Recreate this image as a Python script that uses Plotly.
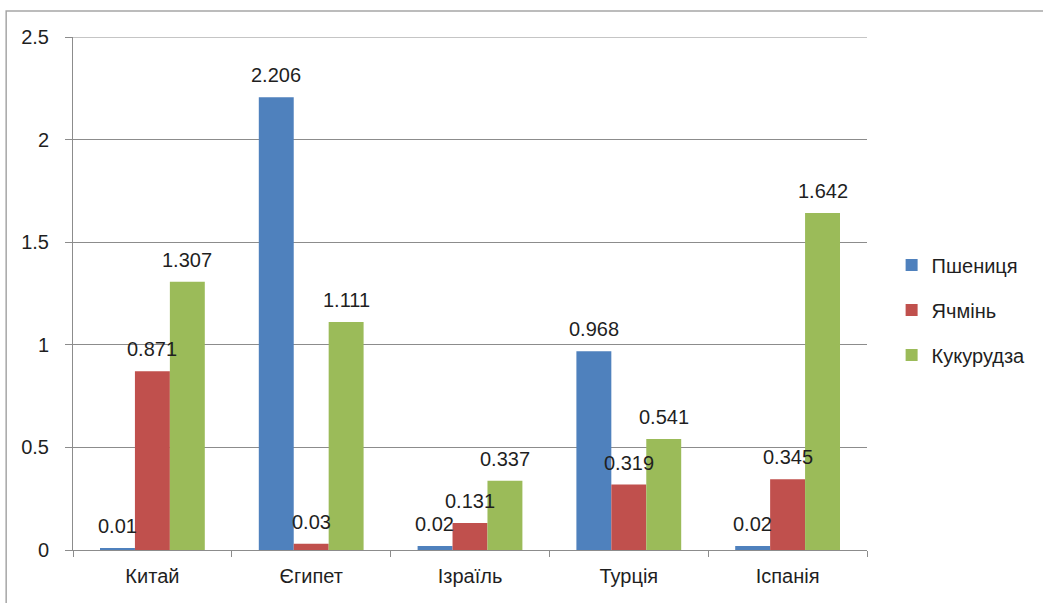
import plotly.graph_objects as go

categories = ["Китай", "Єгипет", "Ізраїль", "Турція", "Іспанія"]
series_names = ["Пшениця", "Ячмінь", "Кукурудза"]
wheat = [0.01, 2.206, 0.02, 0.968, 0.02]
barley = [0.871, 0.03, 0.131, 0.319, 0.345]
corn = [1.307, 1.111, 0.337, 0.541, 1.642]
labels = [
    ["0.01", "2.206", "0.02", "0.968", "0.02"],
    ["0.871", "0.03", "0.131", "0.319", "0.345"],
    ["1.307", "1.111", "0.337", "0.541", "1.642"],
]
colors = ["#4F81BD", "#C0504D", "#9BBB59"]
y_ticks = [0, 0.5, 1, 1.5, 2, 2.5]
y_ticktext = ["0", "0.5", "1", "1.5", "2", "2.5"]

W, H = 1043, 603
ML, MR, MT, MB = 73, 174, 37, 53
BARGAP = 0.34
FONT = "Liberation Sans, Arial, sans-serif"
TXT = "#1f1f1f"
GRID = "#8c8c8c"

fig = go.Figure()
all_vals = [wheat, barley, corn]
for i, (name, vals, col) in enumerate(zip(series_names, all_vals, colors)):
    fig.add_trace(go.Bar(
        x=categories, y=vals, name=name,
        marker=dict(color=col, line=dict(width=0)),
        legendgroup=name,
        hoverinfo="skip",
    ))

plot_w = W - ML - MR
bar_w = plot_w / len(categories) * (1 - BARGAP) / 3
annotations = []
for i, vals in enumerate(all_vals):
    for c, v, t in zip(categories, vals, labels[i]):
        annotations.append(dict(
            x=c, y=v, xref="x", yref="y", text=t, showarrow=False,
            xanchor="center", yanchor="bottom",
            xshift=(i - 1) * bar_w, yshift=9,
            font=dict(family=FONT, size=20, color=TXT),
        ))

shapes = [dict(
    type="rect", xref="paper", yref="paper",
    x0=(6 - ML) / plot_w, x1=(W + 20 - ML) / plot_w,
    y0=-0.3, y1=(H - MB - 11) / (H - MT - MB),
    line=dict(color="#a6a6a6", width=1.5), fillcolor="rgba(0,0,0,0)",
    layer="below",
), dict(
    type="line", xref="paper", yref="y",
    x0=0, x1=1, y0=y_ticks[-1], y1=y_ticks[-1],
    line=dict(color=GRID, width=1), layer="below",
)]

fig.update_layout(
    width=W, height=H,
    margin=dict(l=ML, r=MR, t=MT, b=MB, pad=0),
    paper_bgcolor="white", plot_bgcolor="white",
    barmode="group", bargap=BARGAP, bargroupgap=0,
    font=dict(family=FONT, size=20, color=TXT),
    showlegend=True,
    legend=dict(
        x=1.031, y=0.468, xanchor="left", yanchor="middle",
        font=dict(family=FONT, size=20, color=TXT),
        traceorder="grouped", tracegroupgap=16,
        bgcolor="rgba(0,0,0,0)", itemwidth=30,
    ),
    annotations=annotations,
    shapes=shapes,
)
fig.update_xaxes(
    showline=True, linecolor=GRID, linewidth=1,
    ticks="outside", tickson="boundaries", ticklen=6, tickcolor=GRID,
    showgrid=False, ticklabelstandoff=8,
    tickfont=dict(family=FONT, size=20, color=TXT),
)
fig.update_yaxes(
    range=[0, 2.5], tickvals=y_ticks, ticktext=y_ticktext,
    showline=True, linecolor=GRID, linewidth=1,
    ticks="outside", ticklen=7, tickcolor=GRID,
    showgrid=True, gridcolor=GRID, gridwidth=1,
    zeroline=False, ticklabelstandoff=12,
    tickfont=dict(family=FONT, size=20, color=TXT),
)

fig.write_html("out.html")
